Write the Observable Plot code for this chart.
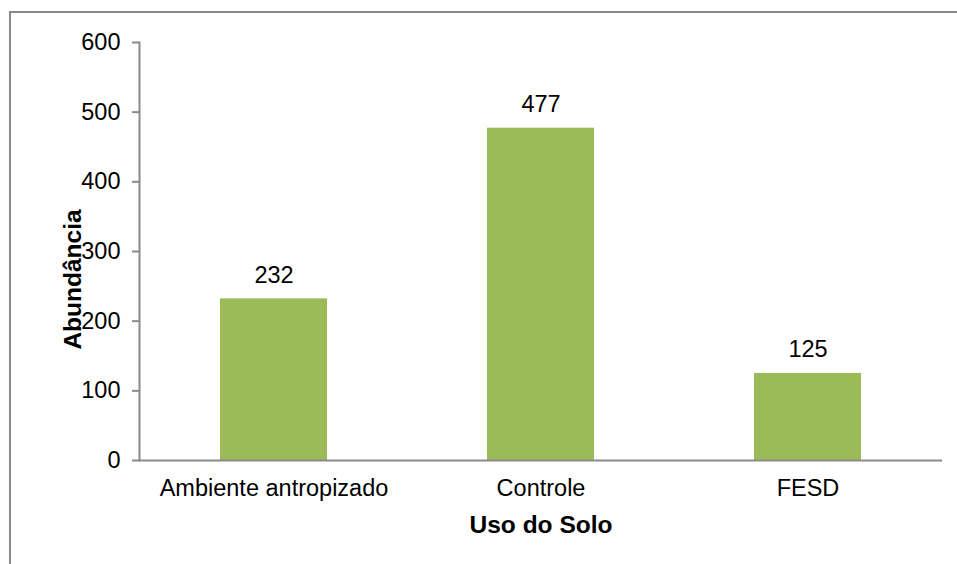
<!DOCTYPE html>
<html>
<head>
<meta charset="utf-8">
<script src="https://cdn.jsdelivr.net/npm/d3@7"></script>
<script src="https://cdn.jsdelivr.net/npm/@observablehq/plot@0.6"></script>
<style>
  html, body { margin: 0; padding: 0; background: #fff; overflow: hidden; }
  #wrap { position: relative; width: 957px; height: 564px; }
  #border { position: absolute; left: 9px; top: 11px; width: 2000px; height: 2000px; border: 2px solid #8a8a8a; box-sizing: border-box; }
  #chart { position: absolute; left: 0; top: 0; }
</style>
</head>
<body>
<div id="wrap"><div id="border"></div><div id="chart"></div></div>
<script>
const categories = ["Ambiente antropizado", "Controle", "FESD"];
const values = [232, 477, 125];
const yTicks = [0, 100, 200, 300, 400, 500, 600];
const xTitle = "Uso do Solo";
const yTitle = "Abundância";

const data = categories.map((c, i) => ({cat: c, value: values[i]}));
const font = "'Liberation Sans', Arial, sans-serif";
const axisColor = "#8a8a8a";
const fs = 23.5;
const fsTitle = 24.5;

const chart = Plot.plot({
  width: 957,
  height: 564,
  marginLeft: 139,
  marginRight: 15,
  marginTop: 42,
  marginBottom: 104,
  style: {fontFamily: font, fontSize: fs + "px", color: "#000", background: "transparent"},
  x: {domain: categories, paddingInner: 0.6, paddingOuter: 0.3, label: null},
  y: {domain: [0, 600], label: null},
  marks: [
    Plot.barY(data, {x: "cat", y: "value", fill: "#9bbb59"}),
    Plot.text(data, {x: "cat", y: "value", text: d => String(d.value), lineAnchor: "bottom", dy: -16, fontSize: fs, fill: "#000"}),
    Plot.axisX({tickSize: 0, tickPadding: 19, fontSize: fs, label: null, color: "#000"}),
    Plot.axisY({ticks: yTicks, tickSize: 7, tickPadding: 12, stroke: axisColor, strokeWidth: 2, strokeOpacity: 1, fontSize: fs, label: null, color: "#000"}),
    Plot.frame({anchor: "left", stroke: axisColor, strokeWidth: 2}),
    Plot.ruleY([0], {stroke: axisColor, strokeWidth: 2}),
    Plot.text([xTitle], {frameAnchor: "bottom", text: d => d, dy: 72, lineAnchor: "bottom", textAnchor: "middle", fontWeight: "bold", fontSize: fsTitle, fill: "#000"}),
    Plot.text([yTitle], {frameAnchor: "left", text: d => d, dx: -66, dy: 28, rotate: -90, lineAnchor: "middle", textAnchor: "middle", fontWeight: "bold", fontSize: fsTitle, fill: "#000"})
  ]
});
document.getElementById("chart").appendChild(chart);
</script>
</body>
</html>
